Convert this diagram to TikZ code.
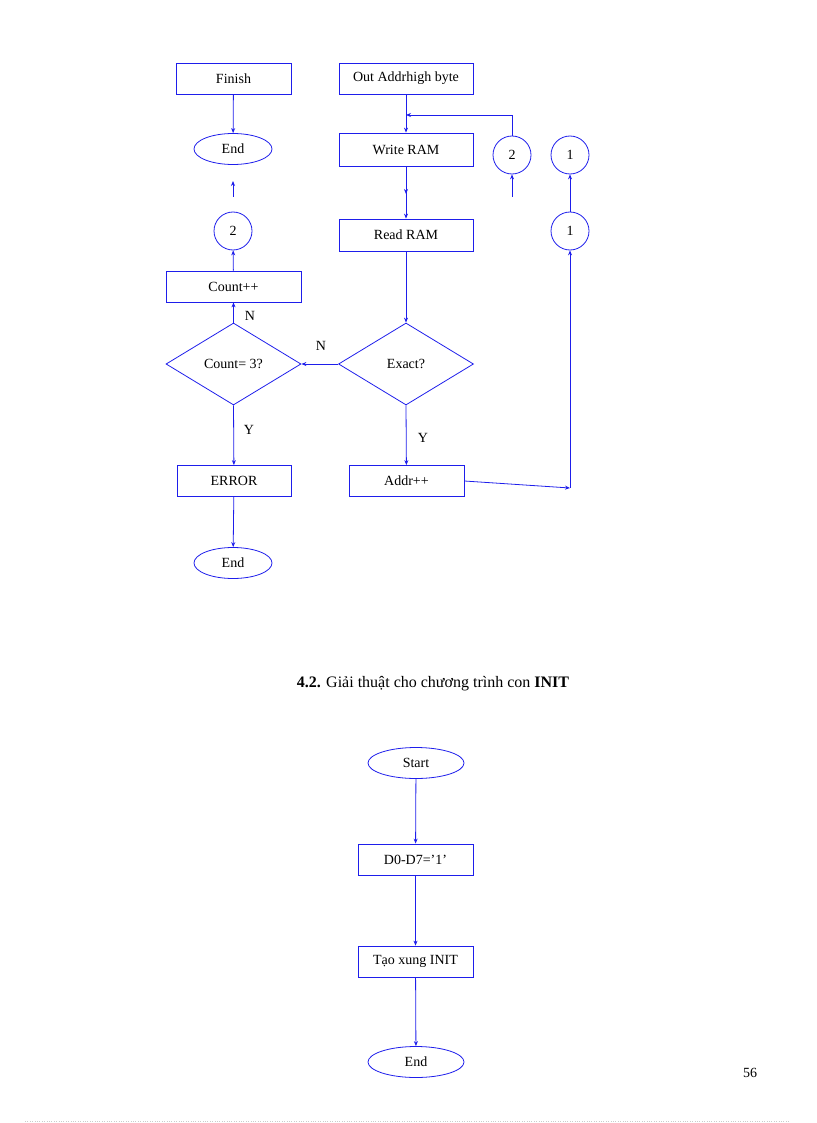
\documentclass[tikz,border=0pt]{standalone}
\usepackage{fontspec}
\setmainfont{Liberation Serif}
\usetikzlibrary{shapes.geometric,arrows.meta}
\definecolor{fb}{RGB}{30,30,235}
\begin{document}
\begin{tikzpicture}[x=1pt,y=-1pt,
  every node/.style={font=\fontsize{14}{16}\selectfont, inner sep=0pt},
  box/.style={draw=fb, thick, rectangle, minimum height=31pt},
  ell/.style={draw=fb, thick, ellipse, minimum height=31pt},
  cir/.style={draw=fb, thick, circle, minimum size=38pt},
  dia/.style={draw=fb, thick, diamond, aspect=1.65, minimum width=135pt, minimum height=82pt},
  ar/.style={draw=fb, thick, -{Stealth[length=5pt,width=4pt]}},
  ln/.style={draw=fb, thick}]
\useasboundingbox (0,0) rectangle (816,1123);
% left column
\node[box, minimum width=115pt] (fin) at (233.5,78.5) {Finish};
\node[ell, minimum width=78pt] (end1) at (233,149) {End};
\coordinate (a1s) at (233,197); \coordinate (a1e) at (233,181);
\node[cir] (c2a) at (233,231) {2};
\node[box, minimum width=135pt] (cnt) at (233.5,286.5) {Count++};
\node[dia] (d3) at (233.5,364) {Count= 3?};
\node[box, minimum width=114pt] (err) at (234,481) {ERROR};
\node[ell, minimum width=78pt] (end2) at (233,563) {End};
\draw[ar] (fin) -- (end1);
\draw[ar] (a1s) -- (a1e);
\draw[ar] (cnt) -- (c2a);
\draw[ar] (d3.north) -- (cnt);
\draw[ar] (d3.south) -- (err);
\draw[ar] (err) -- (end2);
\node at (250,316) {N};
\node at (249,430) {Y};
% middle column
\node[box, minimum width=134pt] (out) at (406,78.5) {Out Addrhigh byte};
\node[box, minimum width=134pt, minimum height=33pt] (wr) at (406,149.5) {Write RAM};
\node[box, minimum width=134pt, minimum height=32pt] (rd) at (406,235) {Read RAM};
\node[dia] (ex) at (406,364) {Exact?};
\node[box, minimum width=115pt] (add) at (406.5,481) {Addr++};
\draw[ar] (out) -- (wr);
\draw[ar] (wr) -- (rd);
\draw[ar] (wr.south) -- (406,194);
\draw[ar] (rd) -- (ex.north);
\draw[ar] (ex.west) -- (d3.east);
\draw[ar] (ex.south) -- (add);
\node at (321,346) {N};
\node at (423,438) {Y};
% right connectors
\node[cir] (c2b) at (512,155) {2};
\node[cir] (c1a) at (570,155) {1};
\node[cir] (c1b) at (570,231) {1};
\coordinate (b2s) at (512,197);
\coordinate (j) at (406,115);
\draw[ar] (b2s) -- (c2b);
\draw[ar] (c2b.north) -- (512,115) -- (j);
\draw[ar] (c1b) -- (c1a);
\draw[ar] (add.east) -- (570,488);
\draw[ar] (570,488) -- (c1b);
% title
\node at (433,684) {\fontsize{16}{18}\selectfont\textbf{4.2.} Giải thuật cho chương trình con \textbf{INIT}};
% INIT flow
\node[ell, minimum width=96pt] (st) at (416,763) {Start};
\node[box, minimum width=115pt] (d07) at (415.5,859.5) {D0-D7='1'};
\node[box, minimum width=115pt] (tx) at (415.5,961.5) {Tạo xung INIT};
\node[ell, minimum width=96pt] (end3) at (416,1062) {End};
\draw[ar] (st) -- (d07);
\draw[ar] (d07) -- (tx);
\draw[ar] (tx) -- (end3);
\node at (750,1073) {56};
\draw[gray!40, dotted] (25,1121) -- (790,1121);
\end{tikzpicture}
\end{document}
